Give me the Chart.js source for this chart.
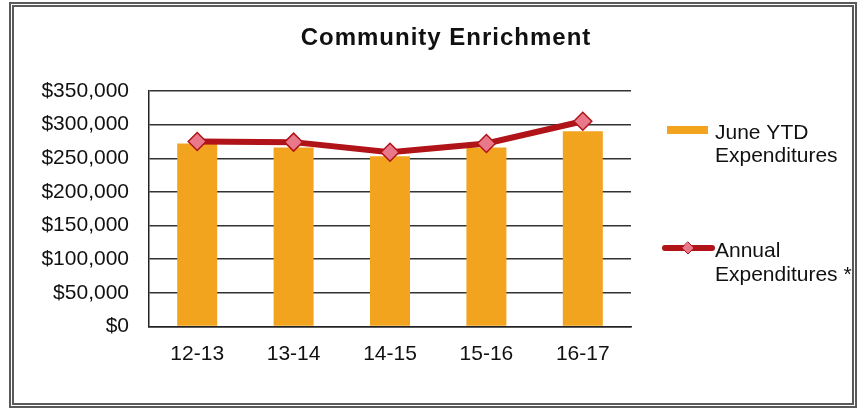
<!DOCTYPE html>
<html>
<head>
<meta charset="utf-8">
<title>Community Enrichment</title>
<script src="https://cdn.jsdelivr.net/npm/chart.js@4/dist/chart.umd.min.js"></script>
<style>
  html, body { margin: 0; padding: 0; background: #fff; }
  #wrap { position: relative; width: 865px; height: 412px; }
  #frame {
    position: absolute; left: 9px; top: 2px; width: 838px; height: 396px;
    border: 5px double #5a5a5a; pointer-events: none;
  }
  canvas { position: absolute; left: 0; top: 0; }
</style>
</head>
<body>
<div id="wrap">
  <canvas id="chart" width="865" height="412"></canvas>
  <div id="frame"></div>
</div>
<script>
const chartTitle = "Community Enrichment";
const fiscalYears = ["12-13", "13-14", "14-15", "15-16", "16-17"];
const juneYtd = [272000, 266000, 253000, 266000, 290000];
const annualTotals = [275000, 274000, 259000, 272000, 305000];
const seriesNames = ["June YTD\nExpenditures", "Annual\nExpenditures *"];
const yTicks = { min: 0, max: 350000, step: 50000 };

const FONT = "'Liberation Sans', Arial, sans-serif";
const ORANGE = "#f2a41e";
const DARK_RED = "#b01418";
const PINK = "#e8788a";

const money = (v) => "$" + Number(v).toLocaleString("en-US");

// Title and the two-line legend are drawn by hand
const decorations = {
  id: "decorations",
  afterDraw(chart) {
    const ctx = chart.ctx;
    ctx.save();
    ctx.fillStyle = "#111";
    ctx.textAlign = "center";
    ctx.textBaseline = "alphabetic";
    ctx.font = "bold 24px " + FONT;
    ctx.letterSpacing = "1px";
    ctx.fillText(chartTitle, 446, 45);
    ctx.letterSpacing = "0px";

    const [bars, line] = chart.data.datasets;
    ctx.font = "21px " + FONT;
    ctx.textAlign = "left";

    // bar entry
    ctx.fillStyle = bars.backgroundColor;
    ctx.fillRect(667, 126, 41, 8);
    ctx.fillStyle = "#111";
    bars.label.split("\n").forEach((t, i) => ctx.fillText(t, 715, 139 + i * 23));

    // line entry
    ctx.strokeStyle = line.borderColor;
    ctx.lineWidth = 6;
    ctx.lineCap = "round";
    ctx.beginPath();
    ctx.moveTo(665, 248);
    ctx.lineTo(712, 248);
    ctx.stroke();
    ctx.fillStyle = line.pointBackgroundColor;
    ctx.strokeStyle = line.pointBorderColor;
    ctx.lineWidth = 1;
    ctx.beginPath();
    ctx.moveTo(688, 242);
    ctx.lineTo(694, 248);
    ctx.lineTo(688, 254);
    ctx.lineTo(682, 248);
    ctx.closePath();
    ctx.fill();
    ctx.stroke();
    ctx.fillStyle = "#111";
    line.label.split("\n").forEach((t, i) => ctx.fillText(t, 715, 257 + i * 24));
    ctx.restore();
  },
};

new Chart(document.getElementById("chart"), {
  data: {
    labels: fiscalYears,
    datasets: [
      {
        type: "bar",
        label: seriesNames[0],
        data: juneYtd,
        backgroundColor: ORANGE,
        categoryPercentage: 1,
        barPercentage: 0.415,
        order: 2,
      },
      {
        type: "line",
        label: seriesNames[1],
        data: annualTotals,
        borderColor: DARK_RED,
        borderWidth: 6,
        tension: 0,
        pointStyle: "rectRot",
        pointRadius: 9,
        pointBackgroundColor: PINK,
        pointBorderColor: DARK_RED,
        pointBorderWidth: 1.5,
        order: 1,
      },
    ],
  },
  options: {
    responsive: false,
    animation: false,
    layout: { padding: { left: 0, right: 234, top: 91, bottom: 0 } },
    plugins: {
      legend: { display: false },
      title: { display: false },
      tooltip: { enabled: false },
    },
    scales: {
      x: {
        grid: { display: false, drawTicks: false },
        border: { display: true, color: "#222", width: 1.5 },
        ticks: { color: "#111", font: { family: FONT, size: 21 }, padding: 15 },
        afterFit(scale) { scale.height = 412 - 326.5; },
      },
      y: {
        min: yTicks.min,
        max: yTicks.max,
        grid: { color: "#333", lineWidth: 1.5, drawTicks: false },
        border: { display: true, color: "#222", width: 1.5 },
        ticks: {
          stepSize: yTicks.step,
          color: "#111",
          padding: 20,
          font: { family: FONT, size: 21 },
          callback: money,
        },
        afterFit(scale) { scale.width = 149; },
      },
    },
  },
  plugins: [decorations],
});
</script>
</body>
</html>
